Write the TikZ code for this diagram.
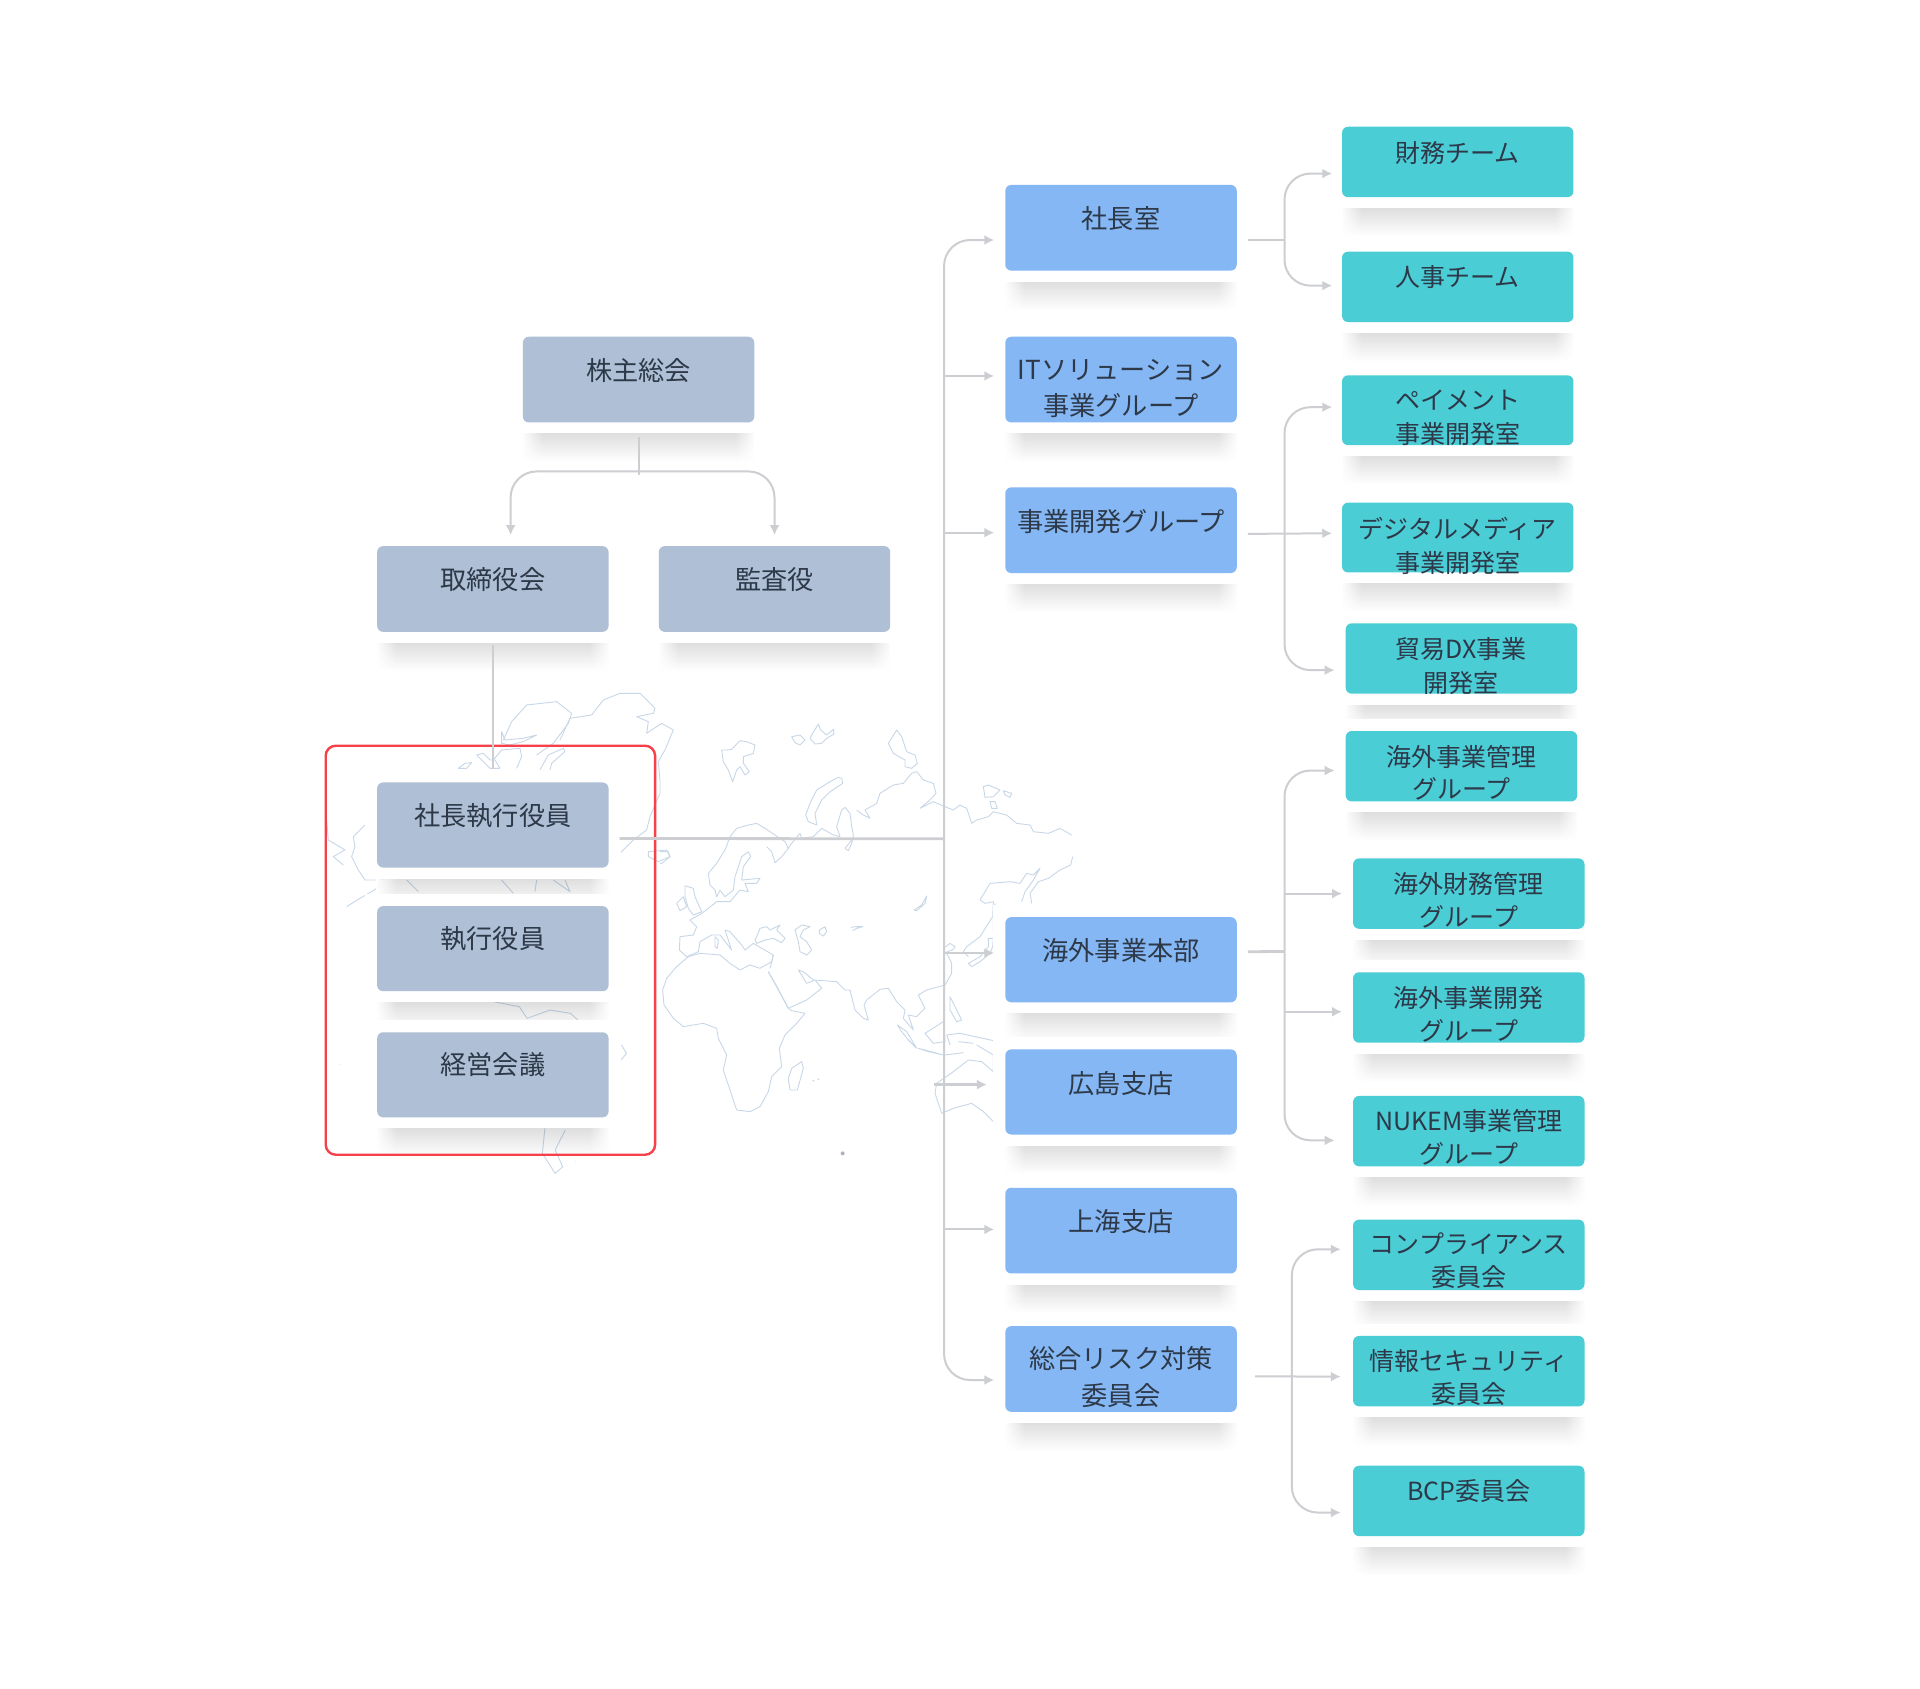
\documentclass[tikz,border=0pt]{standalone}
\usepackage{fontspec}
\setmainfont{Noto Sans CJK JP}
\usetikzlibrary{calc,arrows.meta,fadings}
\definecolor{grayb}{HTML}{AFC0D6}
\definecolor{blueb}{HTML}{84B7F3}
\definecolor{tealb}{HTML}{4BCDD6}
\definecolor{linec}{HTML}{CCCED2}
\definecolor{redc}{HTML}{F5414A}
\definecolor{mapc}{HTML}{C8D7E7}
\definecolor{textc}{HTML}{2D3848}
\tikzset{
  orgb/.style={anchor=north west,inner sep=0pt,outer sep=0pt,rounded corners=3pt,minimum width=189*0.61224pt},
  grayn/.style={orgb,fill=grayb},
  bluen/.style={orgb,fill=blueb},
  tealn/.style={orgb,fill=tealb},
  lab/.style={anchor=north,inner sep=0pt,align=center,text=textc},
  conn/.style={draw=linec,line width=1pt,rounded corners=13pt},
  thick conn/.style={conn,line width=1.4pt},
  arr/.style={-{Latex[length=5pt,width=5pt]}},
  mapl/.style={draw=mapc,line width=.45pt,line join=round},
}
\newcommand\orgbox[8]{%
  \fill[white] ({#3-10},{#4-10}) rectangle ({#3+199},{#4+#5+9});
  \fill[black,opacity=.13,path fading=south] ({#3},{#4+#5+9}) rectangle ({#3+189},{#4+#5+32});
  \fill[white,path fading=east] ({#3-1},{#4+#5+8}) rectangle ({#3+16},{#4+#5+33});
  \fill[white,path fading=west] ({#3+173},{#4+#5+8}) rectangle ({#3+190},{#4+#5+33});
  \node[#2,minimum height=#5*0.61224pt] (#1) at (#3,#4) {};
  \node[lab,font=\fontsize#7\selectfont] (#1t) at ($(#1.north)+(0,#6)$) {#8};
}
\begin{document}
\begin{tikzpicture}[x=0.61224pt,y=-0.61224pt]
\useasboundingbox (0,0) rectangle (1568,1378.6);
\fill[white] (0,0) rectangle (1568,1378.6);
% ---------- world map
\begin{scope}[shift={(539,588)},x=0.16667pt,y=-0.16667pt]
\draw[mapl] (185,90)--(200,90)--(215,88)--(240,62)--(260,65)--(285,75)--(280,100)--(250,110)--(250,130)--(268,155)--(255,165)--(240,140)--(230,150)--(218,185)--(205,150)--(190,125)--cycle;
\draw[mapl] (395,50)--(420,45)--(435,60)--(420,75)--(405,68)--cycle;
\draw[mapl] (455,45)--(475,12)--(482,30)--(500,45)--(520,28)--(522,42)--(500,55)--(485,70)--(465,72)--(450,55)--cycle;
\draw[mapl] (685,70)--(710,30)--(725,50)--(740,95)--(765,105)--(772,130)--(755,145)--(735,140)--(735,120)--(700,100)--cycle;
\draw[mapl] (545,175)--(548,190)--(510,215)--(485,240)--(465,280)--(470,315)--(445,305)--(437,285)--(450,250)--(470,210)--(510,185)--(535,172)--cycle;
\draw[mapl] (145,460)--(170,430)--(195,390)--(210,350)--(230,325)--(265,315)--(290,310)--(315,325)--(345,345)--(375,365)--(385,385)--(395,370)--(420,340)--(425,355)--(460,350)--(485,325)--(520,345)--(540,350)--(530,320)--(545,270)--(555,262)--(570,280)--(575,320)--(580,345)--(575,370)--(565,392)--(555,385)--(575,360);
\draw[mapl] (320,380)--(335,395)--(345,428)--(365,410)--(385,385);
\draw[mapl] (590,270)--(610,285)--(630,295)--(615,270)--(650,250)--(660,220)--(700,195)--(730,190)--(755,160)--(770,155)--(790,180)--(820,190)--(828,220)--(810,240)--(780,265)--(800,255)--(820,245)--(850,258)--(880,270)--(900,255)--(920,265)--(935,310)--(950,300)--(985,290)--(1000,275)--(1040,285)--(1070,310)--(1110,315)--(1120,335)--(1165,340)--(1200,325)--(1235,345);
\draw[mapl] (970,200)--(985,195)--(1020,210)--(1000,230)--(975,232)--cycle;
\draw[mapl] (1030,212)--(1055,220)--(1050,232)--(1035,225)--cycle;
\draw[mapl] (990,245)--(1005,245)--(1012,265)--(995,265)--cycle;
\draw[mapl] (1238,410)--(1232,435)--(1200,450)--(1165,475)--(1135,485)--(1110,520)--(1115,550);
\draw[mapl] (960,540)--(990,490)--(1050,485)--(1080,490)--(1100,460)--(1120,465)--(1140,445)--(1120,480)--(1095,515)--(1085,545);
\draw[mapl] (960,540)--(975,550)--(1000,545)--(998,590)--(985,610)--(960,650)--(920,680)--(910,695)--(925,710);
\draw[mapl] (1005,550)--(1000,600)--(1000,640);
\draw[mapl] (985,655)--(1000,655)--(998,680)--(990,700)--(960,725)--(935,740)--(925,730)--(960,710)--(985,680)--cycle;
\draw[mapl] (850,685)--(870,670)--(885,680)--(878,690)--(860,695);
\draw[mapl] (405,630)--(425,615)--(450,620)--(430,630)--(420,650)--(440,665)--(455,690)--(440,705)--(420,695)--(415,665)--cycle;
\draw[mapl] (478,630)--(495,620)--(500,635)--(490,648)--(478,640)--cycle;
\draw[mapl] (572,622)--(585,620)--(608,620)--(590,625)--(578,632);
\draw[mapl] (800,528)--(795,550)--(770,572)--(762,570)--(785,555)--cycle;
\draw[mapl] (290,650)--(300,625)--(320,620)--(330,630)--(360,615)--(350,630)--(375,655)--(365,668)--(340,655)--(315,660)--(290,670)--(285,660)--cycle;
\draw[mapl] (75,497)--(100,505)--(105,530)--(125,575)--(100,585)--(85,565)--(75,530)--cycle;
\draw[mapl] (50,550)--(70,530)--(80,560)--(60,572)--cycle;
\draw[mapl] (145,460)--(150,495)--(165,510)--(170,530)--(180,510)--(195,530)--(220,510)--(225,470)--(245,410)--(265,395)--(272,410)--(250,440)--(245,480)--(300,475)--(290,490)--(255,490)--(265,515)--(240,510)--(210,545)--(170,545)--(145,565)--(125,580)--(90,600)--(110,620)--(100,645)--(60,650)--(58,690)--(80,710)--(115,695)--(120,665)--(155,645)--(180,645)--(215,690)--(195,630)--(210,635)--(245,675)--(255,690)--(280,670)--(340,705)--(330,745);
\draw[mapl] (165,650)--(175,660)--(172,685)--(165,680)--cycle;
\draw[mapl] (0,395)--(25,395)--(30,410)--(5,430)--(0,430);
\end{scope}
\begin{scope}[shift={(539,751.3)},x=0.16667pt,y=-0.16667pt]
\draw[mapl] (340,105)--(335,125)--(300,145)--(270,135)--(240,150)--(210,130)--(180,105)--(120,100)--(85,110)--(50,140)--(20,175)--(8,210)--(12,255)--(40,295)--(70,320)--(130,310)--(170,325)--(175,355)--(200,405)--(190,450)--(210,510)--(230,570)--(270,575)--(300,560)--(325,515)--(335,470)--(365,440)--(358,385)--(375,345)--(410,310)--(435,280)--(395,272)--(385,265)--(350,200)--(325,155);
\draw[mapl] (325,155)--(345,190)--(385,265)--(440,240)--(485,205)--(465,180)--(440,190)--(415,150)--(430,155)--(460,180)--(530,185)--(555,210)--(570,210)--(585,270)--(610,295)--(625,300)--(612,255)--(620,240)--(660,208)--(685,205)--(710,245)--(735,270)--(730,295)--(760,330)--(745,285)--(770,290)--(795,265)--(775,225)--(800,210)--(855,195)--(875,160)--(875,130)--(860,100);
\draw[mapl] (425,425)--(430,445)--(412,510)--(390,510)--(385,475)--(395,445)--cycle;
\draw[mapl] (712,315)--(740,335)--(770,385)--(745,360)--(725,335)--cycle;
\draw[mapl] (775,385)--(850,405)--(805,395)--cycle;
\draw[mapl] (795,340)--(850,305)--(855,365)--(820,370)--cycle;
\draw[mapl] (870,230)--(880,250)--(905,300)--(890,305)--(870,270)--cycle;
\draw[mapl] (860,345)--(900,340)--(945,350)--(1015,365);
\draw[mapl] (950,375)--(1000,405);
\draw[mapl] (860,345)--(870,375);
\draw[mapl] (895,365)--(940,370);
\draw[mapl] (855,405)--(910,398);
\draw[mapl] (1000,410)--(1000,455)--(965,425)--(925,420)--(880,455)--(830,490)--(825,520)--(845,580)--(880,565)--(935,550)--(970,575)--(1000,605);
\fill[mapc!60!gray] (548,700) circle (6);
\fill[mapc] (460,482) circle (3) (475,478) circle (3);
\end{scope}
\begin{scope}[shift={(261.3,555.3)},x=0.16667pt,y=-0.16667pt]
\draw[mapl] (550,180)--(575,125)--(620,75)--(710,65)--(755,100)--(745,130)--(700,190)--(650,225);
\draw[mapl] (545,155)--(555,180)--(610,175)--(650,165)--(610,185)--(570,195)--(545,190)--cycle;
\draw[mapl] (720,180)--(750,115)--(815,105)--(850,60)--(900,40)--(960,40)--(1005,85)--(1000,100)--(950,110)--(985,125)--(980,160)--(1025,130)--(1060,150)--(1035,210)--(1015,245)--(1020,300)--(1020,340)--(990,410)--(980,450)--(940,480)--(900,520);
\draw[mapl] (660,270)--(685,225)--(730,205)--(735,215)--(695,250)--(690,270);
\draw[mapl] (470,225)--(490,220)--(510,240)--(525,240)--(540,265)--(510,265)--(490,245)--cycle;
\draw[mapl] (520,240)--(545,210)--(600,205)--(605,230)--(590,265);
\draw[mapl] (415,265)--(435,250)--(455,248)--(440,265)--cycle;
\draw[mapl] (135,435)--(100,470)--(105,500)--(95,530)--(115,570)--(135,600)--(175,600)--(200,595);
\draw[mapl] (20,420)--(25,480)--(75,510)--(40,530)--(70,555);
\draw[mapl] (180,620)--(120,655)--(80,680);
\draw[mapl] (985,515)--(1040,510)--(1050,530)--(1015,545)--(985,530)--cycle;
\draw[mapl] (260,600)--(295,635);
\draw[mapl] (545,600)--(580,640);
\draw[mapl] (650,600)--(645,635);
\draw[mapl] (700,600)--(750,635)--(735,600);
\end{scope}
\begin{scope}[shift={(245,588)},x=0.2551pt,y=-0.16667pt]
\draw[mapl] (380,845)--(430,860)--(445,895)--(490,870)--(530,880)--(545,900);
\draw[mapl] (480,1225)--(475,1300)--(500,1360)--(515,1340)--(500,1290)--(520,1230);
\draw[mapl] (630,975)--(640,1000)--(628,1022);
\fill[mapc] (78,1033) circle (1) (540,1325) circle (1);
\end{scope}
% ---------- gray boxes
\orgbox{soukai}{grayn}{427}{275}{70}{17.5}{{13.1}{17.1pt}}{株主総会}
\orgbox{torishimari}{grayn}{308}{446}{70}{17.5}{{13.1}{17.1pt}}{取締役会}
\orgbox{kansa}{grayn}{538}{446}{70}{17.5}{{13.1}{17.1pt}}{監査役}
\orgbox{shikkou}{grayn}{308}{639}{69.5}{16.5}{{13.1}{17.1pt}}{社長執行役員}
\orgbox{yakuin}{grayn}{308}{740}{69.5}{16.5}{{13.1}{17.1pt}}{執行役員}
\orgbox{keiei}{grayn}{308}{843}{69.5}{16.5}{{13.1}{17.1pt}}{経営会議}
% ---------- red frame
\draw[redc,line width=1.2pt,rounded corners=5pt] (266,609) rectangle (535,943);
% ---------- blue boxes
\orgbox{shachou}{bluen}{821}{151}{70}{17.5}{{13.1}{17.8pt}}{社長室}
\orgbox{itsol}{bluen}{821}{275}{70}{18.5}{{13.1}{17.8pt}}{ITソリューション\\事業グループ}
\orgbox{jigyou}{bluen}{821}{398}{70}{17.5}{{13.1}{17.8pt}}{事業開発グループ}
\orgbox{kaigai}{bluen}{821}{749}{69.5}{17}{{13.1}{17.8pt}}{海外事業本部}
\orgbox{hiroshima}{bluen}{821}{857}{69.5}{17.5}{{13.1}{17.8pt}}{広島支店}
\orgbox{shanghai}{bluen}{821}{970}{70}{17}{{13.1}{17.8pt}}{上海支店}
\orgbox{risk}{bluen}{821}{1083}{70}{16.5}{{13.1}{18.2pt}}{総合リスク対策\\委員会}
% ---------- teal boxes
\orgbox{zaimu}{tealn}{1096}{103.5}{57.5}{11.5}{{12.5}{16.8pt}}{財務チーム}
\orgbox{jinji}{tealn}{1096}{205.5}{57.5}{11}{{12.5}{16.8pt}}{人事チーム}
\orgbox{payment}{tealn}{1096}{306.5}{57}{11.5}{{12.5}{17pt}}{ペイメント\\事業開発室}
\orgbox{digital}{tealn}{1096}{410.5}{57}{11.5}{{12.5}{16.8pt}}{デジタルメディア\\事業開発室}
\orgbox{boueki}{tealn}{1099}{509}{57.5}{11}{{12.5}{17pt}}{貿易DX事業\\開発室}
\orgbox{kanri}{tealn}{1099}{597}{57.5}{11}{{12.5}{16.3pt}}{海外事業管理\\グループ}
\orgbox{kzaimu}{tealn}{1105}{701}{57.5}{11}{{12.5}{16.5pt}}{海外財務管理\\グループ}
\orgbox{kkaihatsu}{tealn}{1105}{794}{57.5}{11}{{12.5}{16.5pt}}{海外事業開発\\グループ}
\orgbox{nukem}{tealn}{1105}{895}{57.5}{11}{{12.5}{16.5pt}}{NUKEM事業管理\\グループ}
\orgbox{comp}{tealn}{1105}{996}{57.5}{10.5}{{12.5}{16.5pt}}{コンプライアンス\\委員会}
\orgbox{joho}{tealn}{1105}{1091}{57.5}{11}{{12.5}{16.5pt}}{情報セキュリティ\\委員会}
\orgbox{bcp}{tealn}{1105}{1197}{57.5}{11}{{12.5}{16.5pt}}{BCP委員会}
% ---------- connectors
\coordinate (busT) at (521,385);
\draw[conn] ($(soukai.south)+(0,12)$) -- ($(soukai.south)+(0,43)$);
\draw[conn,arr] (busT) -| ($(torishimari.north)+(14.5,-9)$);
\draw[conn,arr] (busT) -| ($(kansa.north)+(0,-9)$);
\draw[conn] ($(torishimari.south)+(0,11)$) -- ($(shikkou.north)+(0,-11)$);
\coordinate (trunk) at (771,685);
\draw[thick conn] ($(shikkou.east)+(9,11)$) -- (trunk);
\draw[conn,arr] (trunk) |- ($(shachou.west)+(-9,10)$);
\draw[conn,arr] (trunk) |- ($(risk.west)+(-9,9)$);
\draw[conn,arr] ($(itsol.west)+(-50,-3)$) -- ($(itsol.west)+(-9,-3)$);
\draw[conn,arr] ($(jigyou.west)+(-50,2)$) -- ($(jigyou.west)+(-9,2)$);
\draw[thick conn,arr] ($(kaigai.west)+(-50,-5.5)$) -- ($(kaigai.west)+(-9,-5.5)$);
\draw[thick conn,arr] ($(hiroshima.west)+(-58,-6)$) -- ($(hiroshima.west)+(-15,-6)$);
\draw[conn,arr] ($(shanghai.west)+(-50,-1)$) -- ($(shanghai.west)+(-9,-1)$);
\coordinate (busA) at (1049,196);
\draw[conn] ($(shachou.east)+(9,10)$) -- (busA);
\draw[conn,arr] (busA) |- ($(zaimu.west)+(-8,9.5)$);
\draw[conn,arr] (busA) |- ($(jinji.west)+(-8,-1)$);
\coordinate (busB) at (1049,436);
\draw[conn,arr] ($(jigyou.east)+(9,3)$) -- ($(digital.west)+(-8,-3.5)$);
\draw[conn,arr] (busB) |- ($(payment.west)+(-8,-2.5)$);
\draw[conn,arr] (busB) |- ($(boueki.west)+(-9,9.5)$);
\coordinate (busC) at (1049,777);
\draw[thick conn] ($(kaigai.east)+(9,-6.5)$) -- (busC);
\draw[conn,arr] (busC) |- ($(kanri.west)+(-9,3.5)$);
\draw[conn,arr] (busC) |- ($(nukem.west)+(-15,7.5)$);
\draw[conn,arr] ($(kzaimu.west)+(-56,0)$) -- ($(kzaimu.west)+(-9,0)$);
\draw[conn,arr] ($(kkaihatsu.west)+(-56,3.5)$) -- ($(kkaihatsu.west)+(-9,3.5)$);
\coordinate (busD) at (1055,1124);
\draw[conn,arr] ($(risk.east)+(15,6)$) -- ($(joho.west)+(-10,4.5)$);
\draw[conn,arr] (busD) |- ($(comp.west)+(-10,-4.5)$);
\draw[conn,arr] (busD) |- ($(bcp.west)+(-10,9.5)$);
\end{tikzpicture}
\end{document}
